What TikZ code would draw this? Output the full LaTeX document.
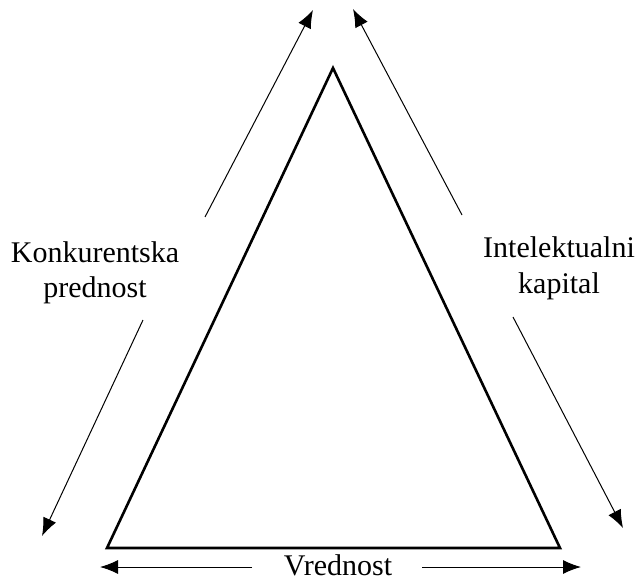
\documentclass[tikz,border=0pt]{standalone}
\usepackage{fontspec}
\setmainfont{Liberation Serif}
\usetikzlibrary{arrows.meta}
\begin{document}
\begin{tikzpicture}[x=1pt,y=-1pt,
  side/.style={line width=2.6pt, line join=miter},
  flow/.style={line width=1pt, -{Latex[length=18pt,width=14pt]}},
  lbl/.style={font=\fontsize{30}{36}\selectfont, inner sep=0pt, anchor=base}]
\useasboundingbox (0,0) rectangle (636,577);
% triangle corners
\coordinate (top) at (333,68);
\coordinate (bl) at (107,548);
\coordinate (br) at (560,548);
\draw[side] (top) -- (bl) -- (br) -- cycle;
% labels, placed by their baselines
\node[lbl] (konk1) at (95,262) {Konkurentska};
\node[lbl] (konk2) at (95,297) {prednost};
\node[lbl] (intel1) at (559,257) {Intelektualni};
\node[lbl] (intel2) at (559,293) {kapital};
\node[lbl] (vred) at (338,575) {Vrednost};
% arrow ends
\coordinate (lu0) at (205,217);
\coordinate (lu1) at (313,10);
\coordinate (ld0) at (143,320);
\coordinate (ld1) at (42,536);
\coordinate (ru0) at (462,215);
\coordinate (ru1) at (353,9);
\coordinate (rd0) at (513,317);
\coordinate (rd1) at (623,528);
\coordinate (bl0) at (252,567);
\coordinate (bl1) at (100,567);
\coordinate (br0) at (422,567);
\coordinate (br1) at (581,567);
\draw[flow] (lu0) -- (lu1);
\draw[flow] (ld0) -- (ld1);
\draw[flow] (ru0) -- (ru1);
\draw[flow] (rd0) -- (rd1);
\draw[flow] (bl0) -- (bl1);
\draw[flow] (br0) -- (br1);
\end{tikzpicture}
\end{document}
